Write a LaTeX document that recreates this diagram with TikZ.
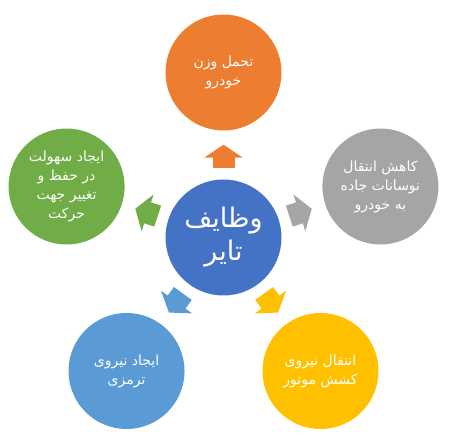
\documentclass[tikz,border=0pt]{standalone}
\usepackage{fontspec}
\newfontfamily\arabicfont[Script=Arabic]{DejaVu Sans}
\TeXXeTstate=1
\usetikzlibrary{arrows.meta}

\definecolor{hubblue}{HTML}{4472C4}
\definecolor{taskorange}{HTML}{ED7D31}
\definecolor{taskgray}{HTML}{A5A5A5}
\definecolor{taskyellow}{HTML}{FFC000}
\definecolor{tasksky}{HTML}{5B9BD5}
\definecolor{taskgreen}{HTML}{70AD47}

\newcommand{\fa}[1]{{\arabicfont\beginR #1\endR}}

\begin{document}
\begin{tikzpicture}[x=1pt,y=1pt,
        hub/.style={circle, fill=hubblue, minimum size=116pt, inner sep=0pt,
                    text=white, align=center, font=\fontsize{27}{33}\selectfont},
        task/.style={circle, fill=#1, minimum size=116pt, inner sep=0pt,
                     text=white, align=center, font=\fontsize{14}{19}\selectfont},
        push/.style={#1, line width=22pt, shorten <=11pt, shorten >=14pt,
                     -{Triangle[length=13pt,width=38pt]}}]
            \useasboundingbox (0,0) rectangle (457,439);

            \node[hub] (tire) at (223.5,201.5) {\fa{وظایف}\\\fa{تایر}};

            \node[task=taskorange] (load)   at ([shift={(90:165)}]tire)  {\fa{تحمل وزن}\\\fa{خودرو}};
            \node[task=taskgray]   (damp)   at ([shift={(18:165)}]tire)  {\fa{کاهش انتقال}\\\fa{نوسانات جاده}\\\fa{به خودرو}};
            \node[task=taskyellow] (drive)  at ([shift={(-54:165)}]tire) {\fa{انتقال نیروی}\\\fa{کشش موتور}};
            \node[task=tasksky]    (brake)  at ([shift={(234:165)}]tire) {\fa{ایجاد نیروی}\\\fa{ترمزی}};
            \node[task=taskgreen]  (steer)  at ([shift={(162:165)}]tire) {\fa{ایجاد سهولت}\\\fa{در حفظ و}\\\fa{تغییر جهت}\\\fa{حرکت}};

            \draw[push=taskorange] (tire)--(load);
            \draw[push=taskgray]   (tire)--(damp);
            \draw[push=taskyellow] (tire)--(drive);
            \draw[push=tasksky]    (tire)--(brake);
            \draw[push=taskgreen]  (tire)--(steer);

        \end{tikzpicture}
\end{document}
